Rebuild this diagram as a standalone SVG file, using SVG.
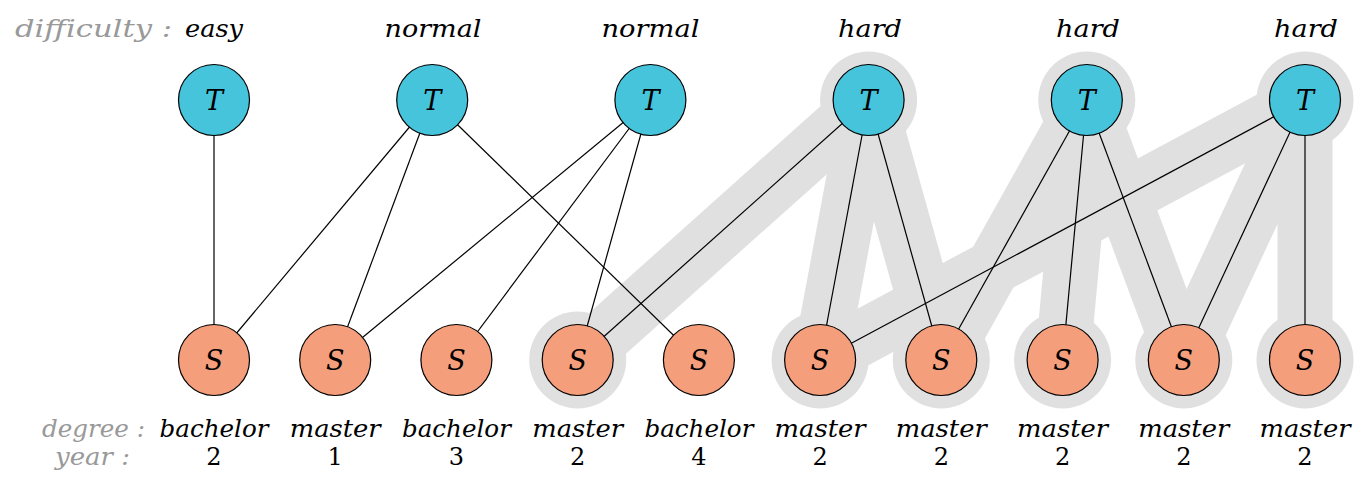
<svg xmlns="http://www.w3.org/2000/svg" width="1370" height="487" viewBox="0 0 1370 487">
<style>
  .band { stroke: #e0e0e0; stroke-width: 55; stroke-linecap: butt; fill: none; }
  .halo { fill: #e0e0e0; }
  .edge { stroke: #000; stroke-width: 1.2; fill: none; }
  .tnode { fill: #45c4dc; stroke: #000; stroke-width: 1.2; }
  .snode { fill: #f59e7b; stroke: #000; stroke-width: 1.2; }
  .lbl { font-family: "DejaVu Serif", "Liberation Serif", serif; font-style: italic; font-size: 27px; text-anchor: middle; fill: #000; }
  .txt { font-family: "DejaVu Serif", "Liberation Serif", serif; font-style: italic; font-size: 24px; text-anchor: middle; fill: #000; }
  .num { font-family: "DejaVu Serif", "Liberation Serif", serif; font-size: 24px; text-anchor: middle; fill: #000; }
  .key { font-family: "DejaVu Serif", "Liberation Serif", serif; font-style: italic; font-size: 24px; fill: #999; }
</style>
<rect width="1370" height="487" fill="#fff"/>
<g id="highlight">
  <line class="band" x1="868.6" y1="100" x2="577.7" y2="360"/>
  <line class="band" x1="868.6" y1="100" x2="820.1" y2="360"/>
  <line class="band" x1="868.6" y1="100" x2="941.3" y2="360"/>
  <line class="band" x1="1086.8" y1="100" x2="941.3" y2="360"/>
  <line class="band" x1="1086.8" y1="100" x2="1062.6" y2="360"/>
  <line class="band" x1="1086.8" y1="100" x2="1183.8" y2="360"/>
  <line class="band" x1="1305" y1="100" x2="820.1" y2="360"/>
  <line class="band" x1="1305" y1="100" x2="1183.8" y2="360"/>
  <line class="band" x1="1305" y1="100" x2="1305" y2="360"/>
  <circle class="halo" cx="868.6" cy="100" r="48.5"/>
  <circle class="halo" cx="1086.8" cy="100" r="48.5"/>
  <circle class="halo" cx="1305" cy="100" r="48.5"/>
  <circle class="halo" cx="577.7" cy="360" r="48.5"/>
  <circle class="halo" cx="820.1" cy="360" r="48.5"/>
  <circle class="halo" cx="941.3" cy="360" r="48.5"/>
  <circle class="halo" cx="1062.6" cy="360" r="48.5"/>
  <circle class="halo" cx="1183.8" cy="360" r="48.5"/>
  <circle class="halo" cx="1305" cy="360" r="48.5"/>
</g>
<g id="connectors">
  <line class="edge" x1="214" y1="100" x2="214" y2="360"/>
  <line class="edge" x1="432.2" y1="100" x2="214" y2="360"/>
  <line class="edge" x1="432.2" y1="100" x2="335.2" y2="360"/>
  <line class="edge" x1="432.2" y1="100" x2="698.9" y2="360"/>
  <line class="edge" x1="650.4" y1="100" x2="335.2" y2="360"/>
  <line class="edge" x1="650.4" y1="100" x2="456.4" y2="360"/>
  <line class="edge" x1="650.4" y1="100" x2="577.7" y2="360"/>
  <line class="edge" x1="868.6" y1="100" x2="577.7" y2="360"/>
  <line class="edge" x1="868.6" y1="100" x2="820.1" y2="360"/>
  <line class="edge" x1="868.6" y1="100" x2="941.3" y2="360"/>
  <line class="edge" x1="1086.8" y1="100" x2="941.3" y2="360"/>
  <line class="edge" x1="1086.8" y1="100" x2="1062.6" y2="360"/>
  <line class="edge" x1="1086.8" y1="100" x2="1183.8" y2="360"/>
  <line class="edge" x1="1305" y1="100" x2="820.1" y2="360"/>
  <line class="edge" x1="1305" y1="100" x2="1183.8" y2="360"/>
  <line class="edge" x1="1305" y1="100" x2="1305" y2="360"/>
</g>
<g id="T1"><circle class="tnode" cx="214" cy="100" r="35.5"/><text class="lbl" x="214" y="110">T</text><text class="txt" x="214" y="37" textLength="58" lengthAdjust="spacingAndGlyphs">easy</text></g>
<g id="T2"><circle class="tnode" cx="432.2" cy="100" r="35.5"/><text class="lbl" x="432.2" y="110">T</text><text class="txt" x="433" y="37" textLength="97" lengthAdjust="spacingAndGlyphs">normal</text></g>
<g id="T3"><circle class="tnode" cx="650.4" cy="100" r="35.5"/><text class="lbl" x="650.4" y="110">T</text><text class="txt" x="650.5" y="37" textLength="98" lengthAdjust="spacingAndGlyphs">normal</text></g>
<g id="T4"><circle class="tnode" cx="868.6" cy="100" r="35.5"/><text class="lbl" x="868.6" y="110">T</text><text class="txt" x="870" y="37" textLength="64" lengthAdjust="spacingAndGlyphs">hard</text></g>
<g id="T5"><circle class="tnode" cx="1086.8" cy="100" r="35.5"/><text class="lbl" x="1086.8" y="110">T</text><text class="txt" x="1088" y="37" textLength="64" lengthAdjust="spacingAndGlyphs">hard</text></g>
<g id="T6"><circle class="tnode" cx="1305" cy="100" r="35.5"/><text class="lbl" x="1305" y="110">T</text><text class="txt" x="1306" y="37" textLength="64" lengthAdjust="spacingAndGlyphs">hard</text></g>
<g id="S1"><circle class="snode" cx="214" cy="360" r="35.5"/><text class="lbl" x="214" y="370">S</text><text class="txt" x="214" y="437" textLength="109" lengthAdjust="spacingAndGlyphs">bachelor</text><text class="num" x="214" y="465">2</text></g>
<g id="S2"><circle class="snode" cx="335.2" cy="360" r="35.5"/><text class="lbl" x="335.2" y="370">S</text><text class="txt" x="335.2" y="437" textLength="91" lengthAdjust="spacingAndGlyphs">master</text><text class="num" x="335.2" y="465">1</text></g>
<g id="S3"><circle class="snode" cx="456.4" cy="360" r="35.5"/><text class="lbl" x="456.4" y="370">S</text><text class="txt" x="456.4" y="437" textLength="109" lengthAdjust="spacingAndGlyphs">bachelor</text><text class="num" x="456.4" y="465">3</text></g>
<g id="S4"><circle class="snode" cx="577.7" cy="360" r="35.5"/><text class="lbl" x="577.7" y="370">S</text><text class="txt" x="577.7" y="437" textLength="91" lengthAdjust="spacingAndGlyphs">master</text><text class="num" x="577.7" y="465">2</text></g>
<g id="S5"><circle class="snode" cx="698.9" cy="360" r="35.5"/><text class="lbl" x="698.9" y="370">S</text><text class="txt" x="698.9" y="437" textLength="109" lengthAdjust="spacingAndGlyphs">bachelor</text><text class="num" x="698.9" y="465">4</text></g>
<g id="S6"><circle class="snode" cx="820.1" cy="360" r="35.5"/><text class="lbl" x="820.1" y="370">S</text><text class="txt" x="820.1" y="437" textLength="91" lengthAdjust="spacingAndGlyphs">master</text><text class="num" x="820.1" y="465">2</text></g>
<g id="S7"><circle class="snode" cx="941.3" cy="360" r="35.5"/><text class="lbl" x="941.3" y="370">S</text><text class="txt" x="941.3" y="437" textLength="91" lengthAdjust="spacingAndGlyphs">master</text><text class="num" x="941.3" y="465">2</text></g>
<g id="S8"><circle class="snode" cx="1062.6" cy="360" r="35.5"/><text class="lbl" x="1062.6" y="370">S</text><text class="txt" x="1062.6" y="437" textLength="91" lengthAdjust="spacingAndGlyphs">master</text><text class="num" x="1062.6" y="465">2</text></g>
<g id="S9"><circle class="snode" cx="1183.8" cy="360" r="35.5"/><text class="lbl" x="1183.8" y="370">S</text><text class="txt" x="1183.8" y="437" textLength="91" lengthAdjust="spacingAndGlyphs">master</text><text class="num" x="1183.8" y="465">2</text></g>
<g id="S10"><circle class="snode" cx="1305" cy="360" r="35.5"/><text class="lbl" x="1305" y="370">S</text><text class="txt" x="1305" y="437" textLength="91" lengthAdjust="spacingAndGlyphs">master</text><text class="num" x="1305" y="465">2</text></g>
<g id="keys">
  <text class="key" x="15" y="37" textLength="157" lengthAdjust="spacingAndGlyphs">difficulty :</text>
  <text class="key" x="42" y="437" textLength="103" lengthAdjust="spacingAndGlyphs">degree :</text>
  <text class="key" x="55" y="465" textLength="75" lengthAdjust="spacingAndGlyphs">year :</text>
</g>
</svg>
